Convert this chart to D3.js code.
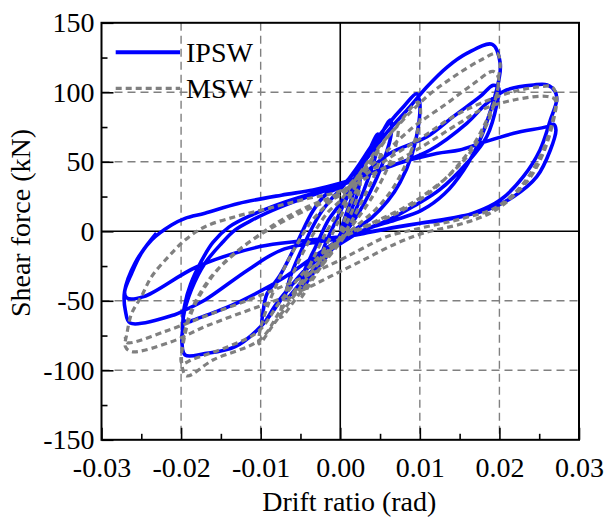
<!DOCTYPE html>
<html>
<head>
<meta charset="utf-8">
<script src="https://cdn.jsdelivr.net/npm/d3@7"></script>
<style>
  body { margin: 0; background: #fff; }
  svg text { font-family: "Liberation Serif", "Times New Roman", Times, "Nimbus Roman", "DejaVu Serif", serif !important; fill: #000; }
</style>
</head>
<body>
<div id="chart"></div>
<script>
// axis ticks
var xTicks = [-0.03, -0.02, -0.01, 0, 0.01, 0.02, 0.03];
var xTickLabels = ["-0.03", "-0.02", "-0.01", "0.00", "0.01", "0.02", "0.03"];
var xMinorTicks = [-0.025, -0.015, -0.005, 0.005, 0.015, 0.025];
var yTicks = [-150, -100, -50, 0, 50, 100, 150];
var yTickLabels = ["-150", "-100", "-50", "0", "50", "100", "150"];
var yMinorTicks = [-125, -75, -25, 25, 75, 125];
var xGrid = [-0.02, -0.01, 0.01, 0.02];
var yGrid = [-100, -50, 50, 100];

var seriesNames = ["IPSW", "MSW"];

// IPSW: [drift ratio, shear force], in loading order
var ipswPoints = [
  [0,0],[0.0012,20],[0.0025,40],[0.0022,28],[0.001,10],[0,-2],[-0.0012,-13],[-0.0025,-24],[-0.0022,-14],[-0.001,2],[0,14],
  [0.0015,32],[0.003,50],[0.0047,70],[0.0045,56],[0.003,30],[0.0015,10],[0,-5],[-0.002,-20],[-0.0035,-31],[-0.005,-42],[-0.0046,-30],[-0.003,-10],[-0.0015,8],[0,20],
  [0.002,40],[0.0045,63],[0.0063,80],[0.0064,70],[0.005,44],[0.003,20],[0.0015,6],[0,-5],[-0.0025,-22],[-0.0045,-34],[-0.0068,-48],[-0.0064,-35],[-0.0046,-10],[-0.0026,12],[-0.001,24],[0,30],
  [0.002,45],[0.004,62],[0.006,77],[0.008,90],[0.0096,99],[0.01,92],[0.0098,75],[0.009,55],[0.0075,35],[0.006,22],[0.004,10],[0.002,2],[0,-5],[-0.002,-14],[-0.004,-25],[-0.006,-38],[-0.008,-52],[-0.0098,-67],[-0.0097,-58],[-0.0092,-45],[-0.0076,-32],[-0.0055,-9],[-0.0034,15],[-0.0017,27],[0,32],
  [0.003,50],[0.006,72],[0.0085,88],[0.0109,104],[0.0134,118],[0.0159,128],[0.0191,134.5],[0.0201,121],[0.0199,108],[0.0189,87],[0.0175,65],[0.0155,44],[0.0131,27],[0.0102,15],[0.0068,8],[0.004,3],[0.002,-2],[0,-9],[-0.003,-21],[-0.006,-38],[-0.0099,-68],[-0.0132,-83],[-0.017,-88],[-0.0195,-89],[-0.0199,-79],[-0.0198,-70],[-0.0197,-61],[-0.0187,-42],[-0.017,-23],[-0.0149,-8.6],[-0.0132,1],[-0.0111,8],[-0.0074,17.7],[-0.003,27],[0,33],
  [0.003,42],[0.0062,56],[0.0109,68],[0.0142,82.5],[0.0176,97],[0.0192,105],[0.0199,103],[0.0197,92],[0.0184,68],[0.0159,49],[0.0125,30],[0.0092,18],[0.006,8],[0.003,1],[0,-6],[-0.003,-17],[-0.007,-33],[-0.0124,-50],[-0.0157,-58],[-0.0185,-64],[-0.0189,-65],[-0.0197,-63.8],[-0.0195,-52],[-0.0188,-38],[-0.0175,-22],[-0.016,-8],[-0.014,3],[-0.011,12],[-0.007,21],[-0.003,28],[0,33],
  [0.003,40],[0.0062,46.5],[0.0113,58.5],[0.0159,77.7],[0.0184,92],[0.0209,101.7],[0.0243,105.3],[0.026,105.3],[0.027,100.5],[0.0272,94.5],[0.0264,80],[0.0251,58.5],[0.023,39.3],[0.0201,22.5],[0.0167,13],[0.013,8],[0.01,5.8],[0.007,3],[0.003,-1.5],[0,-5],[-0.0074,-13.5],[-0.0116,-27.8],[-0.017,-49.4],[-0.0195,-56.6],[-0.0208,-60],[-0.0264,-66],[-0.027,-57],[-0.0271,-43.4],[-0.0258,-23],[-0.0237,-6.3],[-0.0212,4.5],[-0.0195,9.3],[-0.017,13],[-0.0128,20],[-0.0074,26],[-0.0034,29.7],[0,34.5],
  [0.003,40],[0.0062,47],[0.0121,56],[0.015,58.5],[0.0176,63.3],[0.0218,70.5],[0.026,75.3],[0.0268,77],[0.0271,73],[0.0264,58.5],[0.0247,39.3],[0.0218,25],[0.0184,15.3],[0.015,10.6],[0.01,5.8],[0.005,1],[0,-4],[-0.005,-7],[-0.0101,-11],[-0.018,-25.5],[-0.0247,-47],[-0.0268,-48],[-0.0271,-44],[-0.0262,-30],[-0.025,-15.8],[-0.0231,-1.4]
];

// MSW: [drift ratio, shear force]
var mswPoints = [
  [0,0],[0.0012,18],[0.0025,35],[0.0022,25],[0.001,8],[0,-4],[-0.0012,-14],[-0.0025,-25],[-0.0022,-15],[-0.001,-2],[0,10],
  [0.0015,28],[0.003,43],[0.005,58],[0.0046,45],[0.003,25],[0.0015,8],[0,-6],[-0.002,-22],[-0.0035,-35],[-0.005,-48],[-0.0046,-35],[-0.003,-15],[-0.0015,2],[0,16],
  [0.002,35],[0.0045,56],[0.0072,75],[0.007,62],[0.0055,40],[0.0035,20],[0.0015,4],[0,-8],[-0.0025,-26],[-0.005,-44],[-0.0075,-62],[-0.0071,-48],[-0.0055,-25],[-0.0035,-3],[-0.0015,14],[0,22],
  [0.002,38],[0.0045,58],[0.007,75],[0.0098,93],[0.0101,85],[0.0095,68],[0.0082,48],[0.0065,30],[0.0045,16],[0.0025,6],[0,-6],[-0.003,-25],[-0.006,-48],[-0.0085,-68],[-0.0102,-81],[-0.0101,-72],[-0.0092,-55],[-0.0075,-32],[-0.0055,-10],[-0.0035,8],[-0.0015,20],[0,27],
  [0.003,45],[0.006,68],[0.0109,97],[0.0142,111],[0.0176,123],[0.0197,128],[0.0201,121],[0.0199,111],[0.0197,99],[0.0184,80],[0.0163,58.5],[0.0134,39],[0.01,22.5],[0.0071,13],[0.0033,3.4],[0,-6],[-0.004,-30],[-0.0075,-57],[-0.0101,-78],[-0.016,-92.6],[-0.0193,-104],[-0.0199,-96],[-0.0195,-71],[-0.0183,-51.8],[-0.0162,-32.6],[-0.0132,-15.8],[-0.0099,-1.4],[-0.0074,8.1],[-0.004,18],[0,28],
  [0.004,48],[0.0092,75],[0.0134,92],[0.0167,106],[0.0192,115],[0.0199,110],[0.0197,100],[0.0185,78],[0.0165,58],[0.014,42],[0.011,28],[0.008,17],[0.004,6],[0,-5],[-0.004,-26],[-0.0075,-50],[-0.0103,-72],[-0.0141,-83],[-0.0185,-92],[-0.0199,-95],[-0.0197,-80],[-0.0188,-60],[-0.017,-40],[-0.0145,-22],[-0.011,-6],[-0.0075,6],[-0.004,16],[0,26],
  [0.003,40],[0.0065,54],[0.0104,68],[0.0142,82.5],[0.0176,92],[0.0218,100.5],[0.0251,104],[0.0266,104],[0.0272,97],[0.0268,80],[0.0255,56],[0.0239,39],[0.0213,23],[0.0188,13],[0.0155,5.8],[0.0104,-1.4],[0.0071,-8.6],[0.0029,-20.6],[-0.0013,-32.6],[-0.005,-43],[-0.0103,-54.2],[-0.017,-68.6],[-0.0212,-79.4],[-0.0262,-86.6],[-0.027,-83],[-0.0268,-73.4],[-0.0262,-59],[-0.025,-47],[-0.0237,-32.6],[-0.0216,-18.3],[-0.0195,-6.3],[-0.017,3.3],[-0.0132,10.5],[-0.009,16.5],[-0.0045,23],[0,29],
  [0.005,44],[0.01,60],[0.015,78],[0.0176,87],[0.0218,94.5],[0.026,97],[0.027,94.5],[0.0266,78],[0.0252,55],[0.0228,33],[0.0195,17],[0.0155,9.4],[0.01,2.2],[0.0058,-3.9],[0.0029,-12],[0,-20.6],[-0.005,-34],[-0.01,-46],[-0.0165,-60],[-0.022,-72],[-0.0268,-80],[-0.027,-76]
];

var width = 606, height = 518;
var plot = { left: 101.5, right: 579, top: 22.8, bottom: 439.8 };
var serif = "'Liberation Serif', 'Times New Roman', Times, 'DejaVu Serif', serif";

var svg = d3.select("#chart").append("svg")
    .attr("width", width)
    .attr("height", height)
    .style("font-family", serif);

var x = d3.scaleLinear().domain([-0.03, 0.03]).range([plot.left, plot.right]);
var y = d3.scaleLinear().domain([-150, 150]).range([plot.bottom, plot.top]);

// dashed grid
svg.append("g").selectAll("line").data(xGrid).enter().append("line")
    .attr("x1", function(d) { return x(d); })
    .attr("x2", function(d) { return x(d); })
    .attr("y1", plot.top).attr("y2", plot.bottom)
    .attr("stroke", "#808080").attr("stroke-width", 1.4).attr("stroke-dasharray", "8,5");
svg.append("g").selectAll("line").data(yGrid).enter().append("line")
    .attr("y1", function(d) { return y(d); })
    .attr("y2", function(d) { return y(d); })
    .attr("x1", plot.left).attr("x2", plot.right)
    .attr("stroke", "#808080").attr("stroke-width", 1.4).attr("stroke-dasharray", "8,5");

// zero lines
svg.append("line")
    .attr("x1", x(0)).attr("x2", x(0)).attr("y1", plot.top).attr("y2", plot.bottom)
    .attr("stroke", "#000").attr("stroke-width", 1.6);
svg.append("line")
    .attr("x1", plot.left).attr("x2", plot.right).attr("y1", y(0)).attr("y2", y(0))
    .attr("stroke", "#000").attr("stroke-width", 1.6);

// hysteresis curves
var line = d3.line()
    .x(function(d) { return x(d[0]); })
    .y(function(d) { return y(d[1]); })
    .curve(d3.curveCatmullRom.alpha(0.5));

svg.append("path").datum(ipswPoints)
    .attr("d", line)
    .attr("fill", "none")
    .attr("stroke", "#0000ff")
    .attr("stroke-width", 3.6)
    .attr("stroke-linejoin", "round");

svg.append("path").datum(mswPoints)
    .attr("d", line)
    .attr("fill", "none")
    .attr("stroke", "#808080")
    .attr("stroke-width", 3.2)
    .attr("stroke-dasharray", "6,4");

// axes: inward ticks, major + minor
var xAxis = svg.append("g")
    .attr("transform", "translate(0," + plot.bottom + ")")
    .call(d3.axisBottom(x).tickValues(xTicks)
        .tickFormat(function(d, i) { return xTickLabels[i]; })
        .tickSize(-12).tickPadding(17));
var xMinor = svg.append("g")
    .attr("transform", "translate(0," + plot.bottom + ")")
    .call(d3.axisBottom(x).tickValues(xMinorTicks).tickFormat("").tickSize(-6));
var yAxis = svg.append("g")
    .attr("transform", "translate(" + plot.left + ",0)")
    .call(d3.axisLeft(y).tickValues(yTicks)
        .tickFormat(function(d, i) { return yTickLabels[i]; })
        .tickSize(-12).tickPadding(7));
var yMinor = svg.append("g")
    .attr("transform", "translate(" + plot.left + ",0)")
    .call(d3.axisLeft(y).tickValues(yMinorTicks).tickFormat("").tickSize(-6));

[xAxis, xMinor, yAxis, yMinor].forEach(function(a) {
    a.attr("font-family", serif).attr("font-size", 28);
    a.select(".domain").remove();
    a.selectAll(".tick line").attr("stroke", "#000").attr("stroke-width", 1.6);
    a.selectAll("text")
        .attr("font-family", serif)
        .attr("font-size", 28)
        .attr("fill", "#000");
});

// frame
svg.append("rect")
    .attr("x", plot.left).attr("y", plot.top)
    .attr("width", plot.right - plot.left).attr("height", plot.bottom - plot.top)
    .attr("fill", "none").attr("stroke", "#000").attr("stroke-width", 2);

// axis titles
svg.append("text")
    .attr("x", (plot.left + plot.right) / 2 + 9)
    .attr("y", 511)
    .attr("text-anchor", "middle")
    .attr("font-family", serif)
    .attr("font-size", 28)
    .text("Drift ratio (rad)");

svg.append("text")
    .attr("transform", "translate(30," + 223 + ") rotate(-90)")
    .attr("text-anchor", "middle")
    .attr("font-family", serif)
    .attr("font-size", 28)
    .text("Shear force (kN)");

// legend
var legend = svg.append("g");
var legendY = [52.3, 88.3];
legend.selectAll("line").data(seriesNames).enter().append("line")
    .attr("x1", 115.7).attr("x2", 180)
    .attr("y1", function(d, i) { return legendY[i]; })
    .attr("y2", function(d, i) { return legendY[i]; })
    .attr("stroke", function(d, i) { return i === 0 ? "#0000ff" : "#808080"; })
    .attr("stroke-width", function(d, i) { return i === 0 ? 4 : 3.2; })
    .attr("stroke-dasharray", function(d, i) { return i === 0 ? null : "6,4"; });
legend.selectAll("text").data(seriesNames).enter().append("text")
    .attr("x", 186)
    .attr("y", function(d, i) { return legendY[i] + 9.5; })
    .attr("font-family", serif)
    .attr("font-size", 28)
    .text(function(d) { return d; });
</script>
</body>
</html>
